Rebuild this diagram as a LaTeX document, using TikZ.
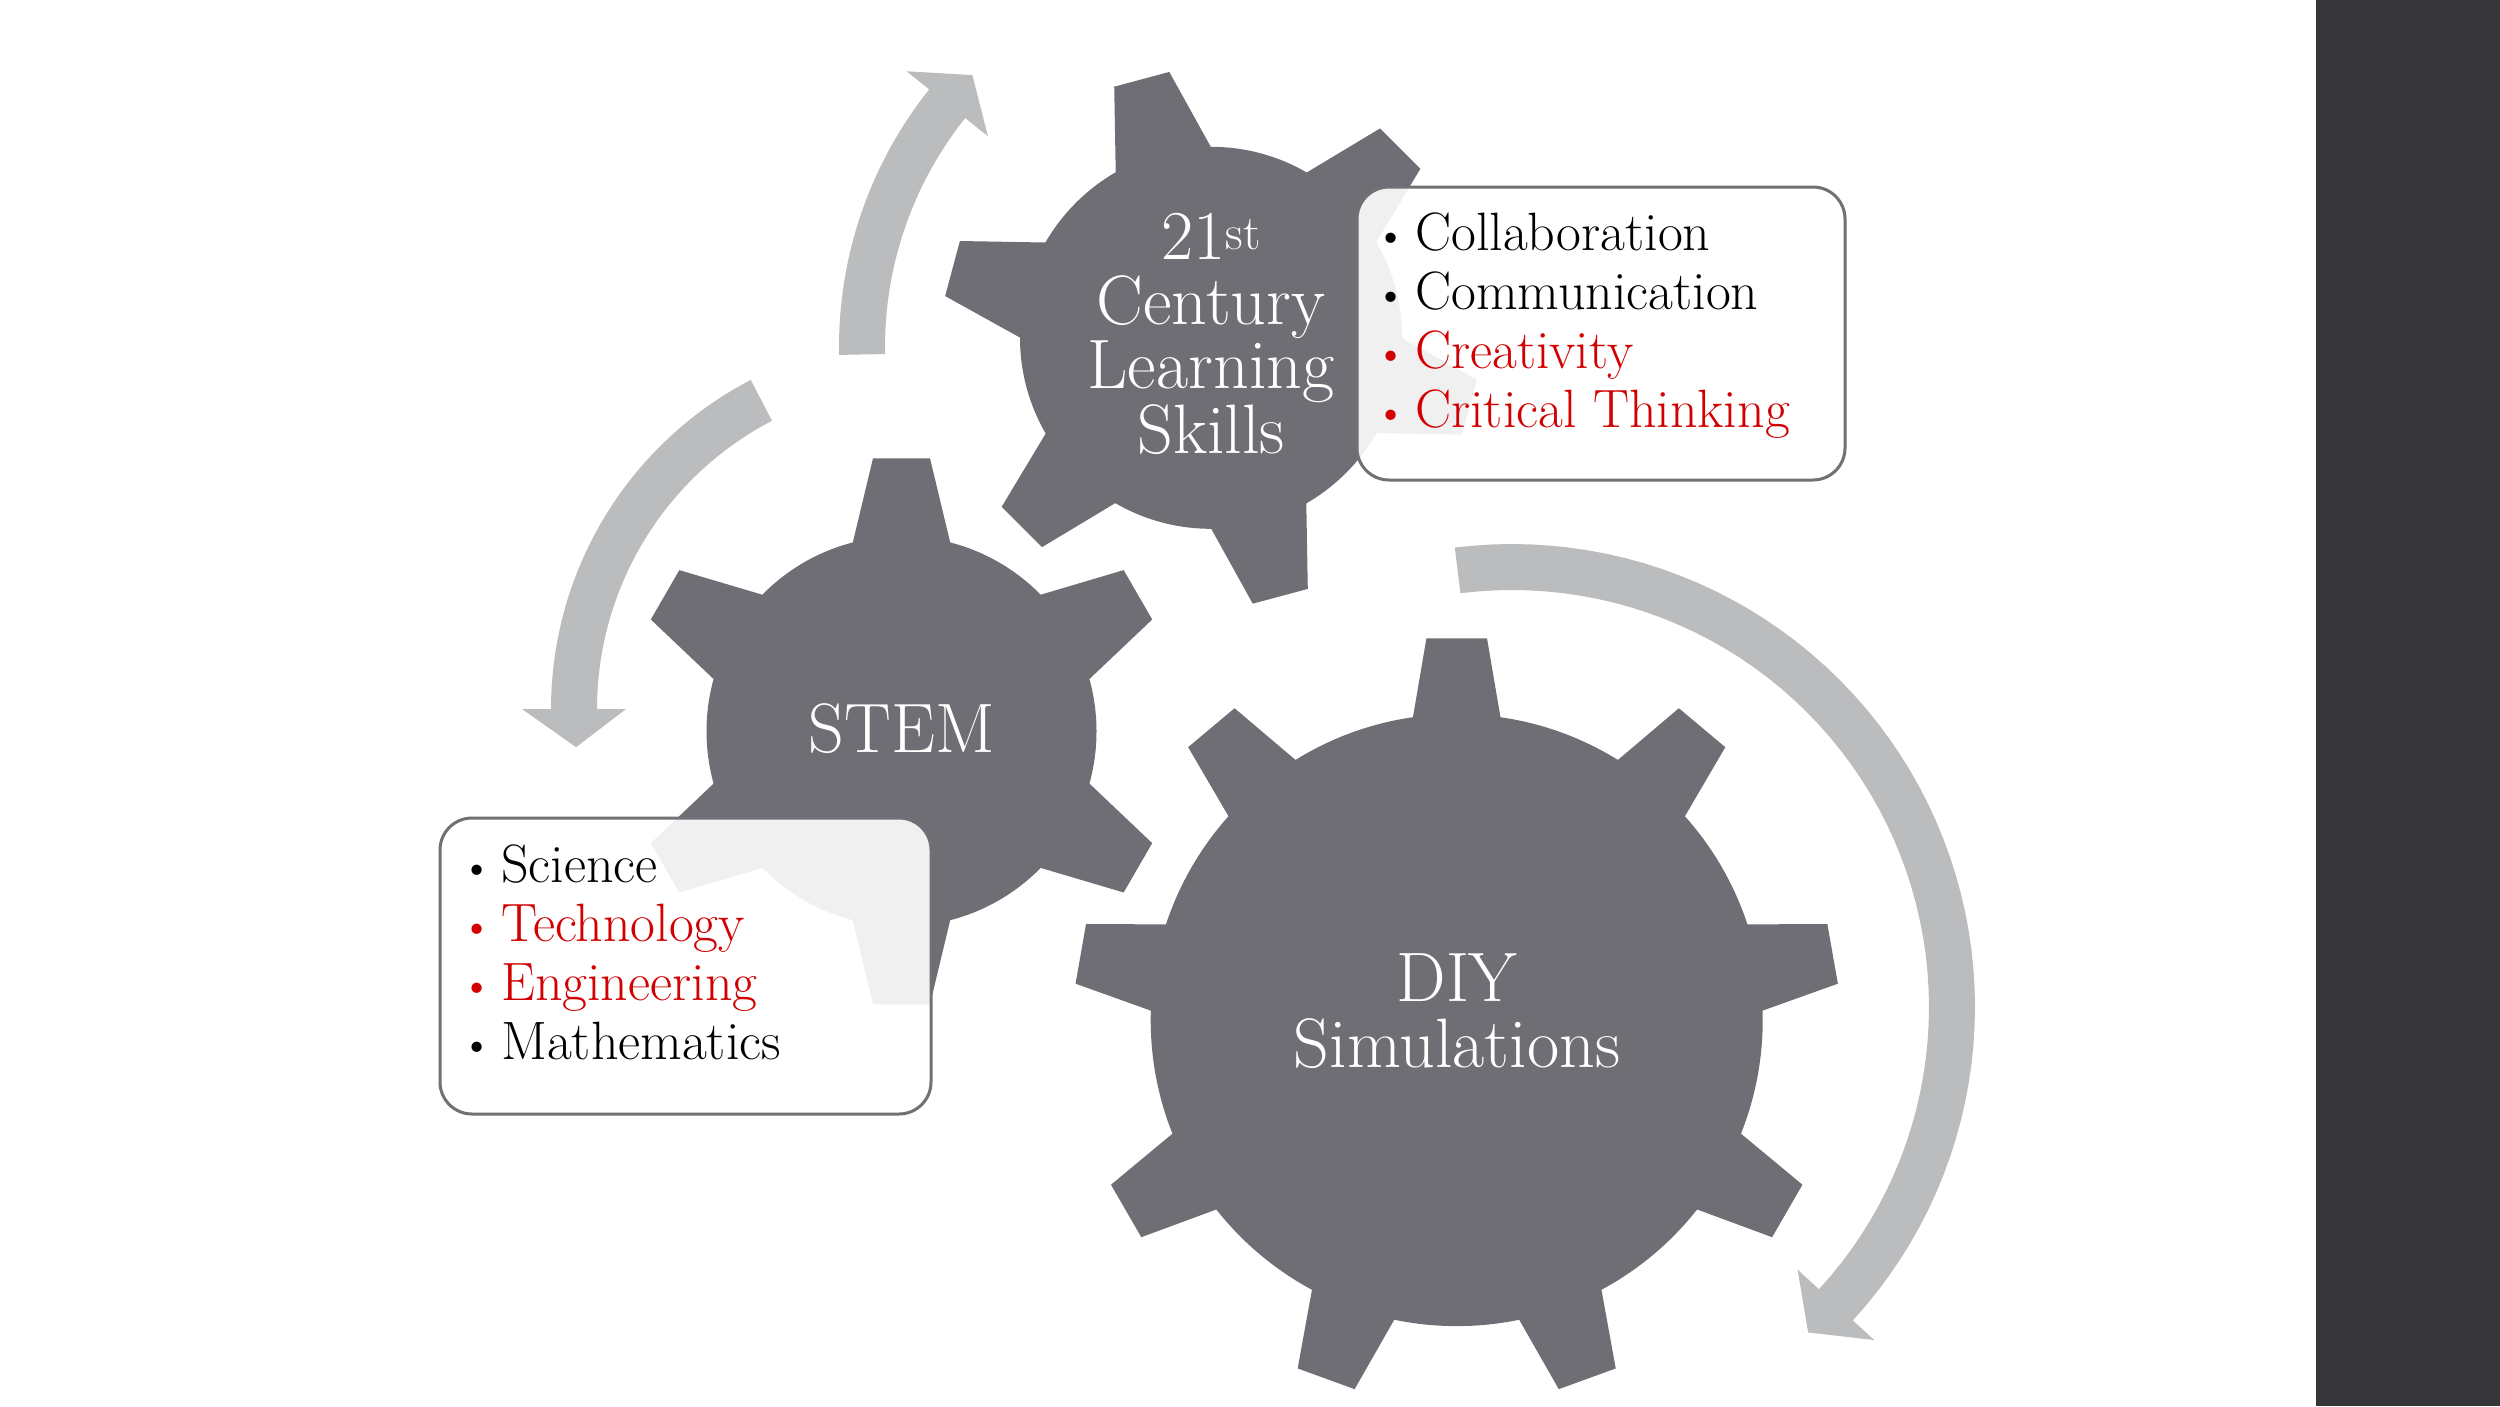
\documentclass[tikz,border=0pt]{standalone}
\definecolor{gearc}{RGB}{111,110,116}
\definecolor{arrc}{RGB}{187,188,190}
\definecolor{barc}{RGB}{54,54,56}
\definecolor{boxline}{RGB}{112,112,117}
\definecolor{redt}{RGB}{210,0,0}
\tikzset{
  gearfill/.style={fill=gearc},
  arrfill/.style={fill=arrc},
  infobox/.style={draw=boxline, line width=3pt, rounded corners=32pt, fill=white, fill opacity=0.9, inner sep=0pt},
  geartext/.style={text=white, font=\fontsize{70}{76}\selectfont, inner sep=0pt, anchor=base},
  itemtext/.style={font=\fontsize{54}{60}\selectfont, inner sep=0pt, anchor=base west},
}
% gear: cx, cy, body radius, tip radius, tip half width, taper (deg), tooth angles
\newcommand{\drawgear}[7]{%
  \fill[gearfill] (#1,#2) circle[radius=#3];
  \foreach \p in {#7}{%
    \pgfmathsetmacro{\ca}{cos(\p)}%
    \pgfmathsetmacro{\sa}{sin(\p)}%
    \pgfmathsetmacro{\dd}{#3-25}%
    \pgfmathsetmacro{\bb}{#5+(#4-\dd)*tan(#6)}%
    \fill[gearfill] ({#1+#4*\ca-#5*\sa},{#2+#4*\sa+#5*\ca})
      -- ({#1+#4*\ca+#5*\sa},{#2+#4*\sa-#5*\ca})
      -- ({#1+\dd*\ca+\bb*\sa},{#2+\dd*\sa-\bb*\ca})
      -- ({#1+\dd*\ca-\bb*\sa},{#2+\dd*\sa+\bb*\ca}) -- cycle;
  }%
}
% circular arrow: cx, cy, radius, tail angle, head-base angle, tip angle
\newcommand{\drawcircarrow}[6]{%
  \fill[arrfill] plot[domain=#4:#5, samples=60] ({#1+(#3+23)*cos(\x)},{#2+(#3+23)*sin(\x)})
     -- ({#1+(#3+52)*cos(#5)},{#2+(#3+52)*sin(#5)})
     -- ({#1+#3*cos(#6)},{#2+#3*sin(#6)})
     -- ({#1+(#3-52)*cos(#5)},{#2+(#3-52)*sin(#5)})
     -- plot[domain=#5:#4, samples=60] ({#1+(#3-23)*cos(\x)},{#2+(#3-23)*sin(\x)}) -- cycle;
}
\newcommand{\bul}{\makebox[24pt][l]{\makebox[0pt][c]{\fontsize{46}{46}\selectfont\textbullet}}}
\begin{document}
\begin{tikzpicture}[x=1pt,y=-1pt]
\useasboundingbox (0,0) rectangle (2500,1406);
\fill[white] (0,0) rectangle (2500,1406);
\fill[barc] (2316,0) rectangle (2500,1406);

% gears
\drawgear{901.5}{731.3}{195}{273}{28.5}{13.5}{30,90,150,210,270,330}
\drawgear{1211}{337.8}{191}{267.6}{28.5}{14}{15,75,135,195,255,315}
\drawgear{1456.7}{1020.1}{306}{381.7}{30.3}{9.7}{270,310,350,30,70,110,150,190,230}

% circular arrows
\drawcircarrow{1252}{347}{390}{178.9}{218.6}{224.2}
\drawcircarrow{922}{709}{348}{242.5}{180}{173.7}
\drawcircarrow{1512}{1007}{440}{-97.1}{42.6}{47.7}

% gear labels
\node[geartext] (c1) at (1211,259) {21\textsuperscript{st}};
\node[geartext] (c2) at (1211,324) {Century};
\node[geartext] (c3) at (1211,388) {Learning};
\node[geartext] (c4) at (1211,453) {Skills};
\node[geartext] (stem) at (901.5,752.6) {STEM};
\node[geartext] (d1) at (1457,1001) {DIY};
\node[geartext] (d2) at (1457,1067) {Simulations};

% boxes
\node[infobox, minimum width=488pt, minimum height=293pt, anchor=north west] (centbox) at (1355.5,185.5) {};
\node[infobox, minimum width=491pt, minimum height=296pt, anchor=north west] (stembox) at (438.5,816.5) {};

\node[itemtext] (b1) at (1391,250) {\bul Collaboration};
\node[itemtext] (b2) at (1391,309) {\bul Communication};
\node[itemtext, text=redt] (b3) at (1391,368) {\bul Creativity};
\node[itemtext, text=redt] (b4) at (1391,427) {\bul Critical Thinking};

\node[itemtext] (s1) at (477,882) {\bul Science};
\node[itemtext, text=redt] (s2) at (477,941) {\bul Technology};
\node[itemtext, text=redt] (s3) at (477,1000) {\bul Engineering};
\node[itemtext] (s4) at (477,1059) {\bul Mathematics};
\end{tikzpicture}
\end{document}
